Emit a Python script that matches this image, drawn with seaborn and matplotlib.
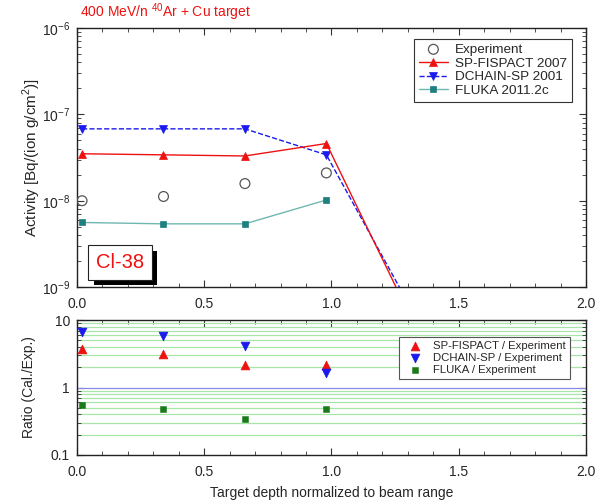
import matplotlib
matplotlib.use("Agg")
import matplotlib.pyplot as plt
import matplotlib.patheffects as pe
from matplotlib.ticker import LogLocator, MultipleLocator, NullFormatter, FixedLocator, FixedFormatter
import seaborn as sns
import pandas as pd

sns.set_style("ticks")
plt.rcParams['font.family'] = ['Liberation Sans', 'DejaVu Sans']
plt.rcParams['mathtext.fontset'] = 'custom'
plt.rcParams['mathtext.rm'] = 'Liberation Sans'

# ---- data ----
depth_exp = [0.02, 0.34, 0.66, 0.98]
depth_calc = [0.02, 0.34, 0.66, 0.98, 1.29]
experiment = [1.0e-8, 1.12e-8, 1.58e-8, 2.1e-8]
sp_fispact = [3.5e-8, 3.4e-8, 3.3e-8, 4.6e-8, 6.0e-10]
dchain = [6.8e-8, 6.8e-8, 6.8e-8, 3.4e-8, 7.5e-10]
fluka_depth = [0.02, 0.34, 0.66, 0.98]
fluka = [5.6e-9, 5.4e-9, 5.4e-9, 1.02e-8]

ratio_sp = [3.7, 3.1, 2.15, 2.15]
ratio_dchain = [6.6, 5.9, 4.2, 1.64]
ratio_fluka = [0.55, 0.48, 0.34, 0.48]

x_ticks = [0.0, 0.5, 1.0, 1.5, 2.0]
x_ticklabels = ["0.0", "0.5", "1.0", "1.5", "2.0"]
ratio_ticks = [0.1, 1, 10]
ratio_ticklabels = ["0.1", "1", "10"]

fig = plt.figure(figsize=(6.06, 5.01), dpi=100)
ax1 = fig.add_axes([0.127, 0.427, 0.840, 0.517])
ax2 = fig.add_axes([0.127, 0.092, 0.840, 0.269])

RED = '#ee1111'
BLUE = '#1a1aee'
TEAL = '#1f7f7f'
TEAL_LINE = '#6fb8b0'
GREEN = '#1a7a1a'

# ---- top panel ----
sns.scatterplot(x=depth_exp, y=experiment, ax=ax1, marker='o', s=50,
                facecolor='none', edgecolor='#555555', linewidth=0.9, label='Experiment', zorder=5)
sns.lineplot(x=depth_calc, y=sp_fispact, ax=ax1, color=RED, marker='^', markersize=6,
             markeredgecolor=RED, markeredgewidth=0.5, linewidth=1.0, label='SP-FISPACT 2007', zorder=4)
sns.lineplot(x=depth_calc, y=dchain, ax=ax1, color=BLUE, marker='v', markersize=6,
             markeredgecolor=BLUE, markeredgewidth=0.5, linewidth=1.0, linestyle='--',
             label='DCHAIN-SP 2001', zorder=3)
sns.lineplot(x=fluka_depth, y=fluka, ax=ax1, color=TEAL_LINE, marker='s', markersize=4.5,
             markerfacecolor=TEAL, markeredgecolor=TEAL, markeredgewidth=0.5, linewidth=1.0,
             label='FLUKA 2011.2c', zorder=4)

ax1.set_yscale('log')
ax1.set_ylim(1e-9, 1e-6)
ax1.set_xlim(0, 2.0)
ax1.set_xticks(x_ticks)
ax1.set_xticklabels(x_ticklabels)
ax1.xaxis.set_minor_locator(MultipleLocator(0.1))
ax1.yaxis.set_minor_locator(LogLocator(base=10, subs=range(2, 10)))
ax1.yaxis.set_minor_formatter(NullFormatter())
ax1.set_ylabel('Activity [Bq/(ion g/cm$^2$)]', fontsize=11)
ax1.yaxis.set_label_coords(-0.067, 0.5)
ax1.set_xlabel('')

leg1 = ax1.legend(loc='upper right', fontsize=9.7, frameon=True, fancybox=False,
                  edgecolor='#333333', framealpha=1, handlelength=2.2, borderpad=0.35,
                  labelspacing=0.1, handletextpad=0.5, bbox_to_anchor=(0.985, 0.985))
leg1.get_frame().set_linewidth(0.8)

t = ax1.text(0.037, 0.095, 'Cl-38', transform=ax1.transAxes, fontsize=14.5, color=RED,
             ha='left', va='center',
             bbox=dict(boxstyle='square,pad=0.38', fc='white', ec='#222222', lw=0.8))
t.get_bbox_patch().set_path_effects([pe.withSimplePatchShadow(offset=(4, -4), shadow_rgbFace='black', alpha=1.0)])

# ---- bottom panel ----
ax2.set_yscale('log')
ax2.set_ylim(0.1, 10)
ax2.set_xlim(0, 2.0)
ax2.yaxis.set_major_locator(FixedLocator(ratio_ticks))
ax2.yaxis.set_major_formatter(FixedFormatter(ratio_ticklabels))
ax2.yaxis.set_minor_locator(LogLocator(base=10, subs=range(2, 10)))
ax2.yaxis.set_minor_formatter(NullFormatter())
ax2.grid(which='minor', axis='y', color='#a8e6a8', linewidth=0.9)
ax2.axhline(1, color='#8a8ae6', linewidth=0.9, zorder=1)

sns.scatterplot(x=depth_exp, y=ratio_sp, ax=ax2, marker='^', s=40, color=RED,
                edgecolor=RED, label='SP-FISPACT / Experiment', zorder=5)
sns.scatterplot(x=depth_exp, y=ratio_dchain, ax=ax2, marker='v', s=40, color=BLUE,
                edgecolor=BLUE, label='DCHAIN-SP / Experiment', zorder=5)
sns.scatterplot(x=depth_exp, y=ratio_fluka, ax=ax2, marker='s', s=22, color=GREEN,
                edgecolor=GREEN, label='FLUKA / Experiment', zorder=5)

ax2.set_xticks(x_ticks)
ax2.set_xticklabels(x_ticklabels)
ax2.xaxis.set_minor_locator(MultipleLocator(0.1))
ax2.set_ylabel('Ratio (Cal./Exp.)', fontsize=10)
ax2.yaxis.set_label_coords(-0.08, 0.5)
ax2.set_xlabel('Target depth normalized to beam range', fontsize=10, labelpad=5)

leg2 = ax2.legend(loc='upper right', fontsize=8.2, frameon=True, fancybox=False,
                  edgecolor='#555555', framealpha=1, borderpad=0.4, labelspacing=0.15,
                  handletextpad=0.6, bbox_to_anchor=(0.98, 0.92))
leg2.get_frame().set_linewidth(0.8)

for ax in (ax1, ax2):
    ax.tick_params(which='both', direction='in', top=True, right=True, labelsize=10, color='#333333')
    ax.tick_params(which='major', length=5, width=0.8)
    ax.tick_params(which='minor', length=3, width=0.6, labelleft=False, labelbottom=False)
    ax.tick_params(axis='x', which='major', pad=7)
    ax.tick_params(axis='y', which='major', pad=5)
    for sp in ax.spines.values():
        sp.set_linewidth(1.0)
        sp.set_color('#222222')

fig.text(0.132, 0.975, '400 MeV/n $^{40}$Ar + Cu target', color=RED, fontsize=10, ha='left', va='center')

fig.savefig('out.png', dpi=100)
